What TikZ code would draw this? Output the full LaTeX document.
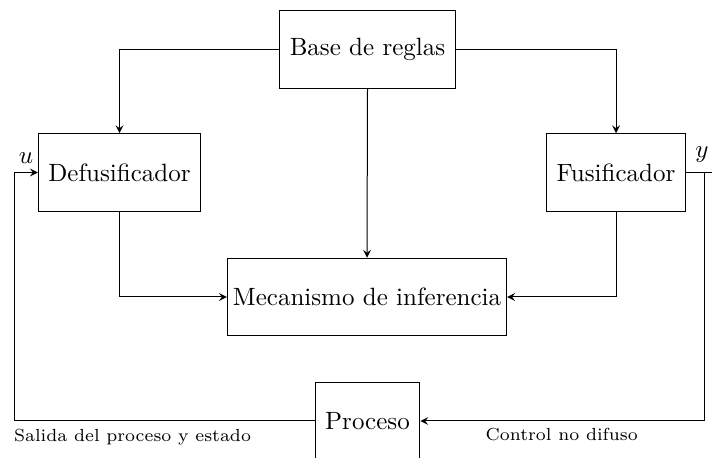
\documentclass[tikz,border=0pt]{standalone}
\usepackage{amsfonts,amssymb}
\usepackage{tikz}
\usetikzlibrary{calc,positioning,arrows}
\tikzset{
bloque/.style={draw, rectangle, minimum height=31pt, inner xsep=4pt}, % cajas del controlador
etiqueta/.style={font=\scriptsize}, % textos de las senales
}

\begin{document}
\begin{tikzpicture}[x=0.4pt, y=0.4pt, >=stealth]
  \useasboundingbox (0,0) rectangle (712,458);
  \node[bloque] (base) at (367.5,408.5) {Base de reglas};
  \node[bloque] (defus) at (119.5,285.5) {Defusificador};
  \node[bloque] (fusif) at (616,285.5) {Fusificador};
  \node[bloque, inner xsep=2.2pt] (mecan) at (367,161) {Mecanismo de inferencia};
  \node[bloque] (proc) at (367.5,37) {Proceso};
  % esquinas del lazo
  \coordinate (ysal) at (716,285.5);
  \coordinate (esqy) at (704,285.5);
  \coordinate (esqu) at (14,285.5);
  \draw[->] (base.west) -| (defus.north);
  \draw[->] (base.east) -| (fusif.north);
  \draw[->] (base.south) -- (mecan.north);
  \draw[->] (defus.south) |- (mecan.west);
  \draw[->] (fusif.south) |- (mecan.east);
  \draw (fusif.east) -- (ysal);
  \draw[->] (esqy) |- (proc.east);
  \draw[->] (proc.west) -| (esqu) -- (defus.west);
  \node (lu) at (26,300) {$u$};
  \node (ly) at (702,303) {$y$};
  \node[etiqueta] (lsalida) at (132.5,21) {Salida del proceso y estado};
  \node[etiqueta] (lcontrol) at (561.7,23) {Control no difuso};
\end{tikzpicture}
\end{document}
